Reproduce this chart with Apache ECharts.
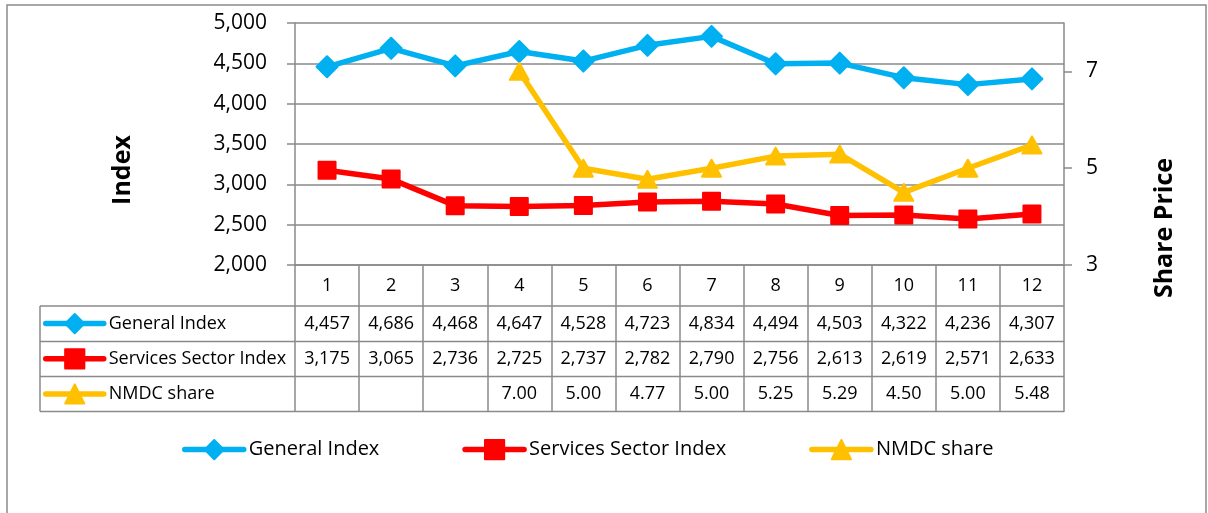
<!DOCTYPE html>
<html>
<head>
<meta charset="utf-8">
<script src="https://cdn.jsdelivr.net/npm/echarts@6/dist/echarts.min.js"></script>
<style>
  html, body { margin: 0; background: #fff; }
  #chart { width: 1208px; height: 513px; }
</style>
</head>
<body>
<div id="chart"></div>
<script>
const months = ['1', '2', '3', '4', '5', '6', '7', '8', '9', '10', '11', '12']
const generalIndex = [4457, 4686, 4468, 4647, 4528, 4723, 4834, 4494, 4503, 4322, 4236, 4307]
const servicesIndex = [3175, 3065, 2736, 2725, 2737, 2782, 2790, 2756, 2613, 2619, 2571, 2633]
const nmdcShare = [null, null, null, 7.00, 5.00, 4.77, 5.00, 5.25, 5.29, 4.50, 5.00, 5.48]
const indexTicks = [2000, 2500, 3000, 3500, 4000, 4500, 5000]
const priceTicks = [3, 5, 7]

const font = '"Open Sans", "Liberation Sans", sans-serif'
const gridColor = '#8a8a8a'
const blue = '#00b0f0'
const red = '#ff0000'
const gold = '#ffc000'

const fmtIndex = (v) => v.toLocaleString('en-US')
const fmtPrice = (v) => (v == null ? '' : v.toFixed(2))

const chart = echarts.init(document.getElementById('chart'), null, { renderer: 'canvas' })

function lineSeries(name, data, color, symbol, size, yAxisIndex) {
  return {
    name,
    type: 'line',
    yAxisIndex,
    data,
    symbol,
    symbolSize: size,
    connectNulls: false,
    lineStyle: { width: 5.5, color, cap: 'round', join: 'round' },
    itemStyle: { color, borderColor: color, borderWidth: 2, borderJoin: 'round' },
    emphasis: { disabled: true },
    z: 3
  }
}

const legendNames = ['General Index', 'Services Sector Index', 'NMDC share']

chart.setOption({
  animation: false,
  textStyle: { fontFamily: font, color: '#000' },
  grid: { left: 295, right: 144, top: 23, bottom: 248, containLabel: false },
  legend: [
    {
      // keys inside the data table
      orient: 'vertical',
      left: 43,
      top: 313,
      padding: 0,
      itemWidth: 58,
      itemHeight: 24,
      itemGap: 14,
      selectedMode: false,
      lineStyle: { width: 5.5 },
      textStyle: { fontSize: 18, lineHeight: 20, color: '#000' },
      data: legendNames
    },
    {
      left: 182,
      top: 439,
      padding: 0,
      itemWidth: 59,
      itemHeight: 24,
      itemGap: 83,
      selectedMode: false,
      lineStyle: { width: 5.5 },
      textStyle: { fontSize: 20, color: '#000' },
      data: legendNames
    }
  ],
  xAxis: {
    type: 'category',
    data: months,
    boundaryGap: true,
    axisLine: { lineStyle: { color: gridColor, width: 1.5 } },
    axisTick: { show: true, interval: 0, length: 147, lineStyle: { color: gridColor, width: 1.5 } },
    axisLabel: { interval: 0, fontSize: 18, lineHeight: 18, margin: 12, color: '#000' }
  },
  yAxis: [
    {
      type: 'value',
      min: 2000,
      max: 5000,
      interval: 500,
      axisLine: { show: true, lineStyle: { color: gridColor, width: 1.5 } },
      axisTick: { show: true, length: 8, lineStyle: { color: gridColor, width: 1.5 } },
      axisLabel: {
        fontSize: 21,
        margin: 28,
        color: '#000',
        customValues: indexTicks,
        formatter: (v) => fmtIndex(v)
      },
      splitLine: { show: true, lineStyle: { color: gridColor, width: 1.5 } }
    },
    {
      type: 'value',
      min: 3,
      max: 8,
      interval: 2,
      position: 'right',
      axisLine: { show: true, lineStyle: { color: gridColor, width: 1.5 } },
      axisTick: { show: true, length: 8, customValues: priceTicks, lineStyle: { color: gridColor, width: 1.5 } },
      axisLabel: { fontSize: 21, margin: 22, color: '#000', customValues: priceTicks },
      splitLine: { show: false }
    }
  ],
  series: [
    lineSeries('General Index', generalIndex, blue, 'diamond', [21, 21], 0),
    lineSeries('Services Sector Index', servicesIndex, red, 'rect', [17, 17], 0),
    lineSeries('NMDC share', nmdcShare, gold, 'triangle', [19, 17], 1)
  ]
})

// data table under the plot, laid out from the axes
function buildTable() {
  const bottom = chart.convertToPixel({ yAxisIndex: 0 }, 2000)
  const colW = chart.convertToPixel({ xAxisIndex: 0 }, 1) - chart.convertToPixel({ xAxisIndex: 0 }, 0)
  const plotRight = chart.convertToPixel({ xAxisIndex: 0 }, months.length - 1) + colW / 2
  const tableLeft = 40
  const edges = [41, 76.5, 111.5, 146.5].map((d) => bottom + d)

  const els = []
  edges.forEach((y) => {
    els.push({
      type: 'line',
      shape: { x1: tableLeft, y1: y, x2: plotRight, y2: y },
      style: { stroke: gridColor, lineWidth: 1.5 },
      silent: true
    })
  })
  els.push({
    type: 'line',
    shape: { x1: tableLeft, y1: edges[0], x2: tableLeft, y2: edges[3] },
    style: { stroke: gridColor, lineWidth: 1.5 },
    silent: true
  })

  const rows = [
    generalIndex.map(fmtIndex),
    servicesIndex.map(fmtIndex),
    nmdcShare.map(fmtPrice)
  ]
  rows.forEach((cells, r) => {
    const cy = (edges[r] + edges[r + 1]) / 2
    cells.forEach((t, i) => {
      if (!t) return
      els.push({
        type: 'text',
        x: chart.convertToPixel({ xAxisIndex: 0 }, i),
        y: cy,
        silent: true,
        style: {
          text: t,
          fill: '#000',
          font: '18px ' + font,
          textAlign: 'center',
          textVerticalAlign: 'middle'
        }
      })
    })
  })

  // axis titles
  els.push({
    type: 'text',
    x: 123,
    y: 170,
    rotation: Math.PI / 2,
    silent: true,
    style: {
      text: 'Index',
      fill: '#000',
      font: 'bold 25px ' + font,
      textAlign: 'center',
      textVerticalAlign: 'middle'
    }
  })
  els.push({
    type: 'text',
    x: 1165,
    y: 228,
    rotation: Math.PI / 2,
    silent: true,
    style: {
      text: 'Share Price',
      fill: '#000',
      font: 'bold 25px ' + font,
      textAlign: 'center',
      textVerticalAlign: 'middle'
    }
  })

  // chart frame
  els.push({
    type: 'rect',
    shape: { x: 7, y: 5, width: 1199, height: 540 },
    style: { fill: 'none', stroke: gridColor, lineWidth: 1.5 },
    silent: true,
    z: -10
  })

  chart.setOption({ graphic: { elements: els } })
}

buildTable()
</script>
</body>
</html>
